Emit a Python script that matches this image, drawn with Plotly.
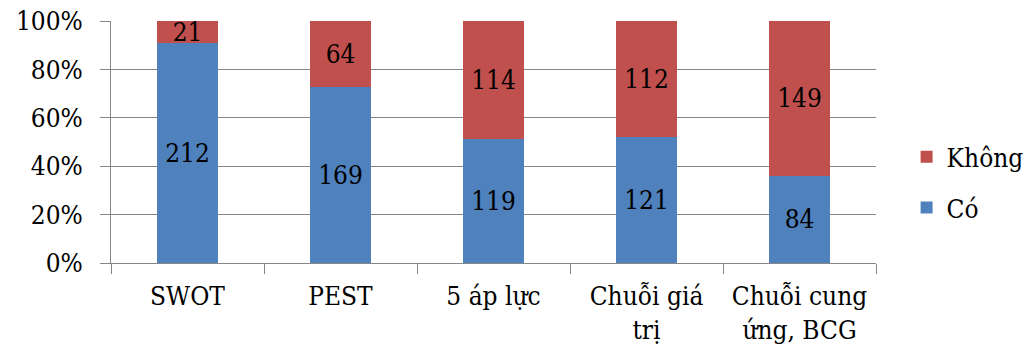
import plotly.graph_objects as go

categories = ["SWOT", "PEST", "5 áp lực", "Chuỗi giá<br>trị", "Chuỗi cung<br>ứng, BCG"]
co_values = [212, 169, 119, 121, 84]
khong_values = [21, 64, 114, 112, 149]
y_ticks = [0, 20, 40, 60, 80, 100]
y_tick_labels = ["0%", "20%", "40%", "60%", "80%", "100%"]

FONT = "DejaVu Serif Condensed"
SIZE = 26
GRID = "#868686"

fig = go.Figure()
fig.add_trace(go.Bar(
    name="Có", x=categories, y=co_values, legendgroup="co", legendrank=2,
    marker=dict(color="#4F81BD", line=dict(width=0)),
    text=[str(v) for v in co_values], textposition="inside", textangle=0,
    insidetextanchor="middle", textfont=dict(family=FONT, size=SIZE, color="black"),
    width=0.4,
))
fig.add_trace(go.Bar(
    name="Không", x=categories, y=khong_values, legendgroup="khong", legendrank=1,
    marker=dict(color="#C0504D", line=dict(width=0)),
    text=[str(v) for v in khong_values], textposition="inside", textangle=0,
    insidetextanchor="middle", textfont=dict(family=FONT, size=SIZE, color="black"),
    width=0.4,
))

fig.update_layout(
    barmode="stack", barnorm="percent",
    width=1036, height=358,
    margin=dict(l=111, r=160, t=21, b=95, autoexpand=False),
    paper_bgcolor="white", plot_bgcolor="white",
    font=dict(family=FONT, size=SIZE, color="black"),
    uniformtext=dict(minsize=SIZE, mode="show"),
    legend=dict(
        traceorder="grouped", x=1.04, y=0.536, xanchor="left", yanchor="top",
        font=dict(family=FONT, size=SIZE), itemwidth=30, tracegroupgap=14,
        bgcolor="rgba(0,0,0,0)",
    ),
    showlegend=True,
)
fig.update_yaxes(
    range=[0, 100], tickmode="array", tickvals=y_ticks, ticktext=y_tick_labels,
    showgrid=True, gridcolor=GRID, gridwidth=1,
    showline=True, linecolor=GRID, linewidth=1,
    ticks="outside", ticklen=10, tickcolor=GRID, ticklabelstandoff=12,
    zeroline=False, tickfont=dict(family=FONT, size=SIZE), automargin=False,
)
fig.update_xaxes(
    showline=True, linecolor=GRID, linewidth=1, showgrid=False,
    ticks="outside", ticklen=10, tickcolor=GRID, tickson="boundaries",
    ticklabelstandoff=10,
    tickangle=0, tickfont=dict(family=FONT, size=SIZE), automargin=False,
)

fig.write_html("out.html")
